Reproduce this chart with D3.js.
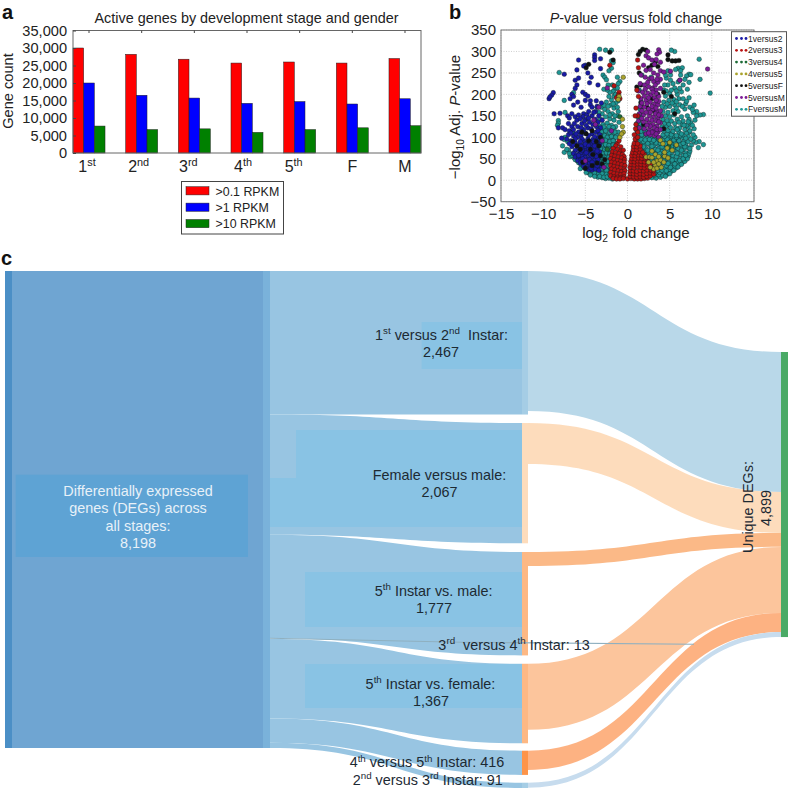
<!DOCTYPE html>
<html><head><meta charset="utf-8">
<script src="https://cdn.jsdelivr.net/npm/d3@7"></script>
<style>html,body{margin:0;padding:0;background:#fff}svg{display:block}text{font-family:"Liberation Sans",Arial,sans-serif}</style>
</head><body><svg id="c" width="788" height="788"></svg>
<script>
// ---------- panel a data
const stages=["1^{st}","2^{nd}","3^{rd}","4^{th}","5^{th}","F","M"];
const above01=[30000,28200,26800,25700,26000,25700,27000];
const above1=[20000,16500,15700,14200,14700,14000,15500];
const above10=[7700,6700,6900,5900,6700,7200,7800];
const rpkmNames=[">0.1 RPKM",">1 RPKM",">10 RPKM"];
// ---------- panel b data (log2 fold change, -log10 p), flat x,y lists
const fVersusM=[-3.3,305,-2.6,303,-1.9,303,-8.1,251,-1.9,278,-1.7,274,-2.9,245,-2.7,240,-2.5,234,-1.9,261,-2.2,255,-0.9,230,-1.1,225,-1.5,212,-1.7,207,-6.4,204,-7.5,186,-7.4,158,-8.2,139,-8.2,133,-1.9,187,-2.2,195,-1.2,215,-1.6,196,-1.1,185,-2.5,182,-2.0,175,-1.6,168,-3.1,170,-2.7,165,-1.2,170,-2.3,160,-1.8,155,-3.0,155,-1.2,150,-2.6,148,-2.1,143,-1.6,140,-3.2,142,-1.0,135,-2.9,130,-2.4,133,-1.9,128,-1.4,125,-3.3,125,-6.5,112,-7.4,100,-7.5,95,-7.7,80,-7.5,65,-7.0,70,-6.5,62,-6.8,55,
-3.0,118,-2.5,120,-2.0,116,-1.6,118,-1.1,112,-3.3,108,-2.8,110,-2.3,106,-1.8,108,-1.3,104,-3.5,98,-3.0,96,-2.6,99,-2.1,95,-1.6,97,-3.3,88,-2.8,86,-2.3,89,-1.9,85,-1.5,87,-3.4,78,-2.9,76,-2.5,79,-2.1,75,-1.6,77,-3.1,68,-2.7,66,-2.2,69,-1.8,65,-3.2,58,-2.8,56,-2.4,59,-1.9,55,-3,48,-2.6,46,-2.1,49,-2.8,38,-2.4,36,-2,39,-3.2,32,-2.7,28,-2.3,26,-2,29,-4.3,22,-3.8,24,-3.4,21,-3,19,-2.6,18,-2.2,20,-4.6,17,-4.1,15,-3.7,13,-3.2,12,-2.8,11,-2.3,10,-3.5,7,-3,6,-2.6,4,-2.2,5,-1.8,3,-5.1,28,-5.5,36,-6,46,-6.3,52,
-2.8,124,-2.2,125,-1.7,123,-3.1,113,-2.6,115,-2.1,111,-1.5,112,-3.2,103,-2.7,104,-2.4,100,-1.9,102,-1.4,100,-3.1,92,-2.6,93,-2.1,90,-1.7,92,-3.1,82,-2.6,83,-2.2,81,-1.7,82,-3.2,73,-2.7,71,-2.3,74,-1.9,70,-3,63,-2.5,64,-2.1,62,-3.3,52,-2.6,52,-2.2,54,-3.3,43,-2.8,43,-2.3,44,-3.1,38,-2.6,33,-2.2,33,-3.5,28,-3.1,26,-2.5,23,-3.9,18,-3.4,16,-3,15,-2.5,14,-4.4,12,-3.9,9,-3.3,9,-2.8,7,-2.4,8,-2.1,13,-4.7,22,-5.3,32,-5.8,41,-6.2,48,-6.6,58,-5.6,27,-4.9,18,-6.9,62,-7.2,72,-6.1,55,-7.1,90,-8.3,128,-3.6,170,-3.4,158,-2.8,175,-2.3,172,-1.4,180,-1.7,178,-2.1,205,-1.4,200,-2.4,210,-1.8,222,-1.2,240,-2.3,222,-2.8,212,-1.5,150,-1.1,160,-2.1,152,
2.9,6,3.4,5,3.9,7,3.2,12,3.7,13,4.2,11,4.7,14,3.3,19,3.8,18,4.3,20,4.8,18,5.2,21,3.2,27,3.9,26,4.4,28,4.9,25,5.4,27,5.8,29,3,35,3.5,33,4,36,4.6,34,5.1,35,5.6,33,6.1,36,2.8,43,3.4,42,3.9,44,4.4,41,4.9,43,5.4,42,5.9,44,6.5,42,2.5,52,3,50,3.5,49,4.1,51,4.6,50,5.2,52,5.7,49,6.3,51,6.9,50,2.2,60,2.7,58,3.3,59,3.8,57,4.3,60,4.9,58,5.4,57,6,60,6.6,58,7.2,56,2,68,2.5,66,3,67,3.5,65,4.1,68,4.6,66,5.2,65,5.7,68,6.3,66,6.9,64,7.3,62,1.7,76,2.2,74,2.8,75,3.3,73,3.8,76,4.4,74,4.9,73,5.5,76,6,74,6.6,72,7.1,76,1.5,84,2,82,2.6,83,3.1,81,3.6,84,4.2,82,4.7,81,5.3,84,5.8,82,6.4,80,6.9,84,7.6,82,1.4,92,1.9,90,2.4,91,2.9,89,3.4,92,4,90,4.5,89,5,92,5.6,90,6.2,88,6.7,92,1.3,100,1.8,98,2.3,99,2.8,97,3.3,100,3.9,98,4.4,97,4.9,100,5.4,98,6,96,6.5,100,7.2,102,8.5,90,9,83,8.1,88,8.4,76,
4.5,9,5,15,5.5,23,6,31,6.4,37,6.8,44,7.1,50,7.4,68,3.2,16,3.6,23,4.1,23,4.6,22,5.1,30,5.6,38,3.3,31,3.8,39,4.3,47,4.8,39,5.3,47,5.8,55,6.2,46,6.6,50,2.8,48,3.3,55,3.8,63,4.4,55,4.9,63,5.4,71,5.9,63,6.4,70,6.9,58,2.4,70,2.9,62,3.6,70,4.1,78,4.7,70,5.2,78,5.7,86,6.3,84,6.8,78,7.4,74,1.9,78,2.4,86,2.9,79,3.4,87,3.9,86,4.5,85,5,86,5.5,94,6.1,92,6.6,86,7.2,90,7.8,92,1.6,96,2.1,94,2.6,95,3.1,93,3.7,96,4.2,94,4.7,95,5.2,102,5.8,100,6.3,104,6.9,98,7.5,96,8,100,1.5,104,2,110,2.5,112,4.4,102,5,110,5.5,104,6.1,112,6.6,106,7.3,112,
1.2,108,1.7,106,2.2,107,4.2,106,4.7,108,5.2,106,5.8,104,6.4,108,7,110,7.8,106,1.1,116,1.6,114,2.1,115,4.3,115,4.8,116,5.4,114,6.8,118,7.4,115,1.3,124,1.8,122,4.1,124,4.6,126,5.1,123,6.2,122,7.2,124,7.9,120,1.1,132,1.6,130,4.4,133,4.9,131,6.5,130,7,128,7.5,134,1.4,140,4.2,142,4.7,139,5.2,138,5.9,142,6.6,138,7.3,142,8.2,160,7.8,158,9,153,8.6,152,6.4,148,7.1,150,4.5,150,5,148,5.5,152,1.2,148,1.7,152,4.2,160,4.8,158,5.4,162,6,160,6.8,166,7.4,170,1.5,165,4.5,170,5,172,5.6,175,6.2,176,6.9,178,4.3,182,4.9,186,5.5,188,6.1,190,7.3,192,1.6,182,4.5,196,5,202,5.9,200,6.4,206,7.1,212,4.3,210,4.8,222,5.6,215,6.6,222,7.3,247,7,243,6,229,6.2,233,5.1,233,4.8,255,6,261,6.5,262,8.5,282,9.8,203,8.6,235,5.6,300,5.2,303,5.7,258,6.3,255,4.6,238,7.5,246,1.4,210,1.7,245,2.8,240,3.2,270,
5.7,122,5.6,132,5.9,118,6.7,128,6.1,135,7.7,128,7.2,136,8,140,5.8,168,6.5,172,7,184,6.6,190,4.1,172,4.7,178,5.3,180,5.8,183,4.6,208,5.2,210,5.8,208,6.2,214,5.4,225,4.4,222,7.7,165,8.2,150,7.9,175,6.3,245,5.1,245,6.8,235,7.3,228,4.5,245];
const oneVersus2=[-5.8,280,-3.9,292,-3.9,286,-3.9,279,-3.2,283,-5,268,-5.2,266,-3.2,260,-6,257,-7.5,247,-4.7,250,-4.3,240,-6.2,233,-5.8,238,-4.5,227,-6,222,-6.2,214,-3.5,222,-8.8,204,-9,198,-9.3,190,-9.2,194,-6.6,200,-6.8,190,-6.4,195,-5.3,205,-5,200,-5,186,-4.7,196,-4.4,185,-4.4,176,-6.4,175,-8,156,-8.7,155,-5.2,155,-4.8,153,-5.3,148,-4.2,170,-5.4,132,-6.6,125,-5.9,125,-8.2,122,-7.7,122,-4.5,135,-3.8,160,-3.4,150,-3,140,-4.2,150,-3.8,142,-4.9,142,-3.5,135,-4.1,130,-7.4,118,-6.9,115,-6.4,118,-5.8,112,-5.2,118,-4.7,122,-3.7,125,-3.2,122,-7,106,-6.4,103,-5.9,100,-5.5,105,-4.2,108,-3.7,112,-3.3,106,-7.8,98,-7.2,96,-6.7,92,-5.2,92,-4.7,96,-4.1,95,-3.6,98,
-6.9,85,-6.2,88,-5.7,84,-5.2,82,-4.8,86,-4.3,84,-3.8,86,-3.3,83,-6.6,78,-5.9,76,-5.3,74,-4.9,77,-4.5,75,-4.1,78,-3.6,74,-6.2,70,-5.7,68,-5.2,66,-4.8,70,-4.3,67,-3.9,69,-3.3,66,-6.4,62,-6,60,-5.5,63,-5.1,59,-4.7,62,-4.4,60,-3.9,63,-3.5,59,-6.2,54,-5.8,52,-5.4,55,-5,53,-4.6,51,-4.2,54,-3.8,52,-3.4,55,-5.9,46,-5.5,48,-5.1,45,-4.7,47,-4.3,44,-3.9,46,-3.5,48,-5.6,40,-5.2,38,-4.8,41,-4.5,39,-4.1,36,-3.7,40,-3.3,38,-5.2,32,-4.8,30,-4.4,33,-4,31,-3.6,29,-3.1,33,-4.6,25,-4.2,24,-3.8,26,-3.4,23,
-7.1,150,-6.6,155,-6.9,145,-6.2,148,-5.8,152,-6,140,-5.6,143,-5.1,138,-4.6,145,-4,158,-3.6,172,-3.1,180,-3.7,185,-4.6,160,-5.5,170,-5.9,182,-7,132,-6.3,132,-4.9,128,-4.3,120,-5.5,122,-6.7,110,-6.1,108,-5,110,-4.6,104,-3.9,102,-3.5,116,-5.4,96,-6.2,96,-5.6,90,-4.5,90,-4,90,-3.5,92,-6.4,82,-5.5,79,-5,84,-4.6,80,-3.9,80,-5.4,70,-4.6,72,-3.6,68,-5.8,58,-4.9,64,-4.2,64,-3.7,56,-5.3,50,-4.5,48,-5,40,-4.2,42,-3.6,34,-4.9,27,-4.3,28];
const twoVersus3=[-1,205,-1.1,198,-1.3,192,-0.9,190,-1.6,220,-2.1,268,1.1,210,1.3,195,1,130,1.2,112,1,92,1.2,280,1.3,262,1.2,150,-1.2,85,-1,92,-1.4,80,-0.8,78,-1.7,74,-1.2,72,-0.8,68,-0.5,70,-1.8,66,-1.4,64,-1,62,-0.6,60,-0.4,55,-1.9,58,-1.5,56,-1.1,54,-0.7,52,-0.35,48,-2,50,-1.6,48,-1.2,46,-0.8,44,-0.4,42,-1.9,42,-1.5,40,-1.1,38,-0.7,36,-0.3,34,-2,34,-1.6,32,-1.2,30,-0.8,28,-0.4,26,-1.9,26,-1.5,24,-1.1,22,-0.7,20,-0.3,22,-2,18,-1.6,16,-1.2,14,-0.8,13,-0.4,15,-2,10,-1.6,8,-1.2,7,-0.8,6,-0.4,8,-1.7,4,-1.3,3,-0.9,3,-0.5,4,0,3,0.4,4,0.8,3,1.2,3,1.6,3,2,4,2.4,5,0.3,9,0.7,8,1.1,7,1.5,8,1.9,7,2.3,9,2.7,10,0.3,16,0.7,15,1.1,14,1.5,15,1.9,14,2.3,16,2.7,17,3.1,14,0.35,23,0.7,22,1.1,21,1.5,23,1.9,22,2.3,24,2.8,23,3.1,22,0.3,30,0.8,29,1.2,31,1.6,30,2,29,2.4,31,2.8,30,0.4,37,0.8,36,1.2,38,1.6,37,2,36,2.4,38,2.7,37,0.4,44,0.8,43,1.2,45,1.6,44,2,43,2.4,45,0.5,51,0.9,50,1.3,52,1.7,51,2.1,50,2.3,52,0.5,58,0.9,57,1.3,59,1.7,58,2,60,0.6,65,1,64,1.4,66,1.8,65,0.7,72,1.1,71,1.5,73,0.7,79,1.1,78,1.5,80,0.8,86,1.2,85,0.9,96,1.2,100,0.8,106,0.9,150,1,168,0.95,120];
const threeVersus4=[-3.6,66,-2.4,72,3.3,118,4.9,78,-0.9,148,1.7,172];
const fourVersus5=[-0.5,240,-1,195,-1.1,188,-0.6,142,-0.6,125,-0.9,100,-0.5,112,-0.7,108,2.2,54,2.6,54,2.9,53,3.5,45,3.9,47,3.3,35,3.1,26,2.7,30,4.3,42,4.7,75,3.9,93,4.2,85,5.8,82,5,88,2.9,68,3.3,60,3.7,55,3.5,28,4,30,3.7,38,4.4,56,4.8,52,2.5,42,3.1,42,5.3,70,4.4,65];
const fiveVersusF=[1.8,305,1.5,300,1.3,293,2.2,303,4.8,292,4.8,281,5.3,278,5.7,278,6.1,279,3.6,265,2.5,262,2.9,268,3.3,275,1.4,250,1.1,217,1.6,222,2.9,190,3.6,200,4.3,205,5.2,195,-1.7,280,-2.1,298,-4.6,270,-4.9,262,-4.2,115,-4.9,108,-5.4,112,-4.6,92,-3.7,90,-3.4,80,-5.6,72,-4.4,72,-4.1,60,-3.2,57,-5.3,42,-4.2,34,-3.6,40,-3,38,-2.7,48,-5,28,-6,80,-6.5,90,-3.2,100,3.2,160,1.9,130,2.3,170,4.3,120,3.8,150,5.6,155,1.6,180];
const fiveVersusM=[3.7,304,3.8,298,3.5,294,2.2,290,2.5,285,2.9,280,3.4,281,3.2,270,3.9,275,1.9,268,2.2,256,2.7,258,3.1,250,3.6,245,3.9,255,4.3,252,1.6,245,2.1,240,2.6,236,3.1,230,3.6,228,3.9,235,1.5,225,2,222,2.5,218,3,215,3.4,210,3.9,214,1.3,208,1.8,205,2.4,203,2.8,198,3.2,192,3.7,195,1.6,190,2.2,186,2.7,182,3.2,178,3.6,176,1.5,172,2,170,2.5,166,3,165,3.5,160,3.9,162,1.4,155,1.9,152,2.6,150,3.1,148,3.6,144,4,150,1.3,138,1.9,136,2.5,134,3,130,3.5,126,3.9,134,1.4,122,2,120,2.6,118,3.1,115,3.6,112,3.2,104,2.7,106,3.7,100,2.2,108,-2.4,215,-4,140,-3.8,130,-3,92,-1.9,115,-3.4,170,9.5,259,5.1,254,6.2,233,-2.8,30,-5,45,2.4,300,
2.9,212,3.3,222,3.5,235,2.4,228,2.9,238,3.4,202,2.1,212,3,205,3.7,184,3.4,186,2.5,192,2,196,2.9,172,2.3,178,1.7,180,3.4,168,2.7,158,3.3,155,2.2,158,1.7,162,3.7,152,2.9,140,3.4,138,2.3,142,1.7,144,3.7,136,3.2,122,2.7,126,2.3,128,3.5,118,3.9,118,3.4,108,2.9,112,2.5,110];
const seriesNames=["1versus2","2versus3","3versus4","4versus5","5versusF","5versusM","FversusM"];
// ---------- panel c data
const stageNames=["1^{st} versus 2^{nd}\u00a0 Instar:","Female versus male:","5^{th} Instar vs. male:","3^{rd}\u00a0 versus 4^{th} Instar: 13","5^{th} Instar vs. female:","4^{th} versus 5^{th} Instar: 416","2^{nd} versus 3^{rd} Instar: 91"];
const stageDEG=[2467,2067,1777,13,1367,416,91];
const stageUnique=[2404,705,240,1,1134,330,85];
const totalDEG=8198, uniqueTotal=4899;

// ---------- helpers
const svg=d3.select("#c");
const chunk=a=>d3.range(0,a.length,2).map(i=>[a[i],a[i+1]]);
function rich(t,s,fs){
  const re=/([\^_])\{([^}]*)\}|\*([^*]*)\*|([^\^_*]+)/g; let m,back=0;
  while((m=re.exec(s))){
    const ts=t.append("tspan");
    if(m[1]){const d=(m[1]==="^"?-0.4:0.28)*fs; ts.attr("dy",d+back).style("font-size",(fs*0.68)+"px").text(m[2]); back=-d;}
    else{ if(back) ts.attr("dy",back); back=0; if(m[3]) ts.style("font-style","italic").text(m[3]); else ts.text(m[4]); }
  }
  return t;
}
function label(g,s,x,y,fs,anchor,color){
  const t=g.append("text").attr("x",x).attr("y",y).attr("text-anchor",anchor||"middle").attr("fill",color||"#222").style("font-size",fs+"px");
  return rich(t,s,fs);
}
function vlabel(g,s,x,y,fs,color){
  const t=g.append("text").attr("transform",`translate(${x},${y}) rotate(-90)`).attr("text-anchor","middle").attr("fill",color||"#222").style("font-size",fs+"px");
  return rich(t,s,fs);
}
function ribbon(x0,x1,a0,a1,b0,b1){
  const p=d3.path(),m=(x0+x1)/2;
  p.moveTo(x0,a0);p.bezierCurveTo(m,a0,m,b0,x1,b0);p.lineTo(x1,b1);p.bezierCurveTo(m,b1,m,a1,x0,a1);p.closePath();
  return p.toString();
}
[["a",2,19],["b",449,19],["c",1,265]].forEach(d=>svg.append("text").attr("x",d[1]).attr("y",d[2]).style("font-size","20px").style("font-weight","bold").attr("fill","#111").text(d[0]));

// ---------- panel a
{
  const g=svg.append("g");
  const x=d3.scaleBand().domain(d3.range(stages.length)).range([73,421]).paddingInner(0.392).paddingOuter(0);
  const y=d3.scaleLinear().domain([0,35000]).range([153,30.5]);
  const sub=d3.scaleBand().domain([0,1,2]).range([0,x.bandwidth()]);
  const cols=["#ff0000","#0000ff","#008000"];
  [above01,above1,above10].forEach((vals,k)=>{
    g.selectAll(null).data(vals).join("rect")
      .attr("x",(d,i)=>x(i)+sub(k)).attr("width",sub.bandwidth())
      .attr("y",d=>y(d)).attr("height",d=>y(0)-y(d)).attr("fill",cols[k]).attr("stroke","#222").attr("stroke-width",0.5);
  });
  g.append("rect").attr("x",73).attr("y",30.5).attr("width",348).attr("height",122.5).attr("fill","none").attr("stroke","#666").attr("stroke-width",1);
  const ax=g.append("g").attr("transform","translate(73,0)").call(d3.axisLeft(y).tickValues(d3.range(0,35001,5000)).tickSize(-3).tickPadding(6).tickFormat(d3.format(",")));
  ax.select(".domain").remove();ax.selectAll("line").attr("stroke","#444");
  ax.selectAll("text").attr("fill","#222").style("font-size","14.6px");
  stages.forEach((s,i)=>{
    const off=[-2,-3,-6,-4,-6,0,0][i];
    label(g,s,x(i)+x.bandwidth()/2+off,172,16);
    g.append("line").attr("x1",x(i)+x.bandwidth()/2).attr("x2",x(i)+x.bandwidth()/2).attr("y1",30.5).attr("y2",33).attr("stroke","#444");
  });
  label(g,"Active genes by development stage and gender",246.5,23,14.4);
  vlabel(g,"Gene count",13,91,14.6);
  g.append("rect").attr("x",181.5).attr("y",181.5).attr("width",102).attr("height",52.5).attr("fill","#fff").attr("stroke","#444");
  rpkmNames.forEach((s,i)=>{
    g.append("rect").attr("x",186).attr("y",186.7+i*16.4).attr("width",23).attr("height",8.2).attr("fill",cols[i]).attr("stroke","#222").attr("stroke-width",0.5);
    label(g,s,215.5,195.5+i*16.4,12.4,"start");
  });
}
// ---------- panel b
{
  const g=svg.append("g");
  const x=d3.scaleLinear().domain([-15,15]).range([501,754]);
  const y=d3.scaleLinear().domain([-50,350]).range([201.7,30]);
  const xt=d3.range(-15,16,5), yt=d3.range(-50,351,50);
  g.selectAll(null).data(xt).join("line").attr("x1",x).attr("x2",x).attr("y1",30).attr("y2",201.7).attr("stroke","#bbb").attr("stroke-width",0.7).attr("stroke-dasharray","1 1.5");
  g.selectAll(null).data(yt).join("line").attr("y1",y).attr("y2",y).attr("x1",501).attr("x2",754).attr("stroke","#bbb").attr("stroke-width",0.7).attr("stroke-dasharray","1 1.5");
  const pts=g.append("g").style("filter","blur(0.3px)");
  const cols={FM:"#1f9694",b:"#1a1aa6",r:"#b81212",gr:"#1d6b36",yl:"#a9a22c",k:"#111111",p:"#7d1a96"};
  [[fVersusM,cols.FM],[threeVersus4,cols.gr],[oneVersus2,cols.b],[fiveVersusF,cols.k],[fiveVersusM,cols.p],[twoVersus3,cols.r],[fourVersus5,cols.yl]].forEach(([a,c])=>{
    pts.selectAll(null).data(chunk(a)).join("circle").attr("cx",d=>x(d[0])).attr("cy",d=>y(d[1])).attr("r",2.3).attr("fill",c).attr("stroke","#0c1c1c").attr("stroke-width",0.4);
  });
  g.append("rect").attr("x",501).attr("y",30).attr("width",253).attr("height",171.7).attr("fill","none").attr("stroke","#777").attr("stroke-width",1);
  const ay=g.append("g").attr("transform","translate(501,0)").call(d3.axisLeft(y).tickValues(yt).tickSize(0).tickPadding(5));
  ay.select(".domain").remove();ay.selectAll("text").attr("fill","#222").style("font-size","15px");
  const ax=g.append("g").attr("transform","translate(0,201.7)").call(d3.axisBottom(x).tickValues(xt).tickSize(0).tickPadding(7));
  ax.select(".domain").remove();ax.selectAll("text").attr("fill","#222").style("font-size","15px");
  label(g,"*P*-value versus fold change",636,22.5,14.3);
  label(g,"log_{2} fold change",636,238,15);
  vlabel(g,"−log_{10} Adj. *P*-value",460,117,15);
  g.append("rect").attr("x",731.5).attr("y",31.7).attr("width",55).attr("height",84.5).attr("fill","#fff").attr("stroke","#555");
  const lc=[cols.b,cols.r,cols.gr,cols.yl,cols.k,cols.p,cols.FM];
  seriesNames.forEach((s,i)=>{
    const yy=38.5+i*11.8;
    [736.5,741.5,746].forEach(cx=>g.append("circle").attr("cx",cx).attr("cy",yy).attr("r",1.4).attr("fill",lc[i]));
    label(g,s,748,yy+3,8.5,"start");
  });
}
// ---------- panel c
{
  const g=svg.append("g");
  const k=d3.scaleLinear().domain([0,totalDEG]).range([0,477]);
  const topY=271, col=[5,12,263,270,522,528,781,788];
  const gaps=[0,8.5,8.7,0,7.6,7.4,7.8];
  const uFill=[["#b9d8e9",1],["#fccd9f",.7],["#fbb987",1],["#fcc59c",1],["#fcc59c",1],["#fc924d",.7],["#c7dcee",1]];
  const nodeFill=["#a5cde5","#fddcbc","#fdb884","#fdb884","#fdb884","#fd9449","#a5cde5"];
  g.append("rect").attr("x",col[1]).attr("y",topY).attr("width",col[2]-col[1]).attr("height",k(totalDEG)).attr("fill","#6fa5d2");
  g.append("rect").attr("x",col[0]).attr("y",topY).attr("width",col[1]-col[0]).attr("height",k(totalDEG)).attr("fill","#4b8fc6");
  g.append("rect").attr("x",col[2]).attr("y",topY).attr("width",col[3]-col[2]).attr("height",k(totalDEG)).attr("fill","#7ab2da");
  let l=topY,m=topY,r=352;
  const rows=stageDEG.map((v,i)=>{
    m+=gaps[i];
    const o={v,i,l0:l,l1:l+k(v),m0:m,m1:m+k(v),u0:m,u1:m+k(stageUnique[i]),r0:r,r1:r+k(stageUnique[i])};
    l=o.l1;m=o.m1;r=o.r1;return o;
  });
  const drawn=rows.filter(d=>d.i!==3);
  g.selectAll(null).data(drawn).join("path").attr("d",d=>ribbon(col[3],col[4],d.l0,d.l1,d.m0,d.m1)).attr("fill","#98c5e2");
  const boxes=[[421.6,322,100.4,47],[296,430,226,48],[270,478,252,49],[305,572,217,55],[305,664,217,44]];
  g.selectAll(null).data(boxes).join("rect").attr("x",d=>d[0]).attr("y",d=>d[1]).attr("width",d=>d[2]).attr("height",d=>d[3]).attr("fill","#89c3e4");
  g.append("rect").attr("x",15.7).attr("y",474.7).attr("width",232.3).attr("height",82.3).attr("fill","#5ea3d4");
  g.selectAll(null).data(drawn).join("path").attr("d",d=>ribbon(col[5],col[6],d.u0,d.u1,d.r0,d.r1)).attr("fill",d=>uFill[d.i][0]).attr("fill-opacity",d=>uFill[d.i][1]);
  g.selectAll(null).data(drawn).join("rect").attr("x",col[4]).attr("y",d=>d.m0).attr("width",col[5]-col[4]).attr("height",d=>k(d.v)).attr("fill",d=>nodeFill[d.i]);
  g.append("rect").attr("x",col[6]).attr("y",352).attr("width",col[7]-col[6]).attr("height",k(uniqueTotal)).attr("fill","#4aaa66");
  const d3row=rows[3];
  g.append("path").attr("d",d3.line()([[col[3],d3row.l0],[col[4]-60,d3row.l0+4],[col[4]+172,d3row.l0+6]])).attr("fill","none").attr("stroke","#8fb0c0").attr("stroke-width",k(13)+0.3);
  const ink="#1d2a33";
  label(g,stageNames[0],441.5,340,14.4,"middle",ink);label(g,d3.format(",")(stageDEG[0]),441,357,14.4,"middle",ink);
  label(g,stageNames[1],439.5,480,14.4,"middle",ink);label(g,d3.format(",")(stageDEG[1]),439.5,497.3,14.4,"middle",ink);
  label(g,stageNames[2],433.6,595.7,14.4,"middle",ink);label(g,d3.format(",")(stageDEG[2]),434,613,14.4,"middle",ink);
  label(g,stageNames[4],430.5,689,14.4,"middle",ink);label(g,d3.format(",")(stageDEG[4]),431,706,14.4,"middle",ink);
  label(g,stageNames[3],514,650,14.4,"middle",ink);
  label(g,stageNames[5],427,767.3,14.4,"middle",ink);
  label(g,stageNames[6],427.7,785,14.4,"middle",ink);
  ["Differentially expressed","genes (DEGs) across","all stages:",d3.format(",")(totalDEG)].forEach((s,i)=>label(g,s,138,496+i*17.3,14.4,"middle","#e8f1f8"));
  vlabel(g,"Unique DEGs:",752.5,507,14.4,ink);
  vlabel(g,d3.format(",")(uniqueTotal),771,508,14.4,ink);
}
</script></body></html>
